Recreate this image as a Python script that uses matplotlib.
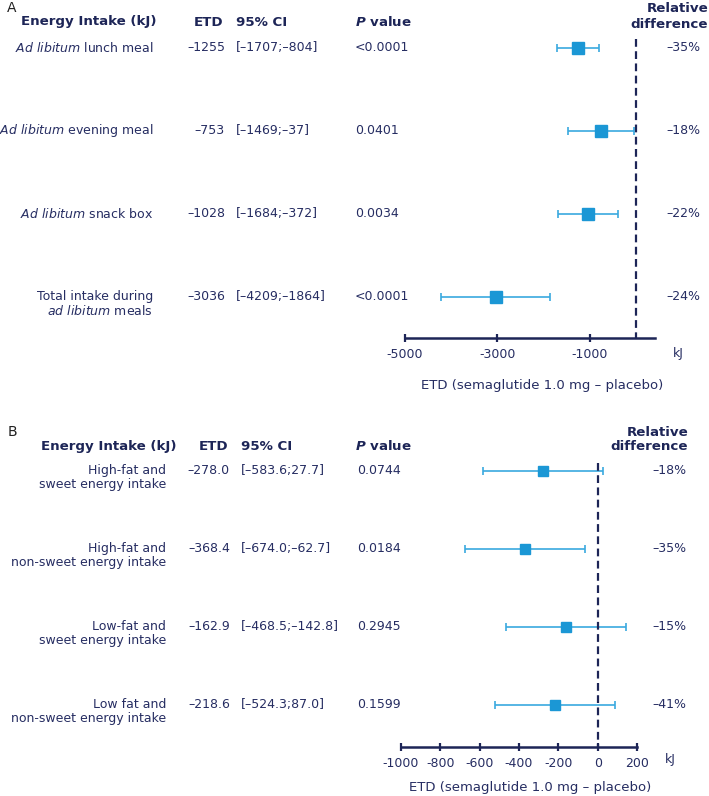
import matplotlib
import matplotlib.pyplot as plt
from matplotlib.transforms import blended_transform_factory

matplotlib.use("Agg")
plt.rcParams["mathtext.fontset"] = "dejavusans"

# Panel A data
a_labels = [
    ["$\\it{Ad\\ libitum}$ lunch meal"],
    ["$\\it{Ad\\ libitum}$ evening meal"],
    ["$\\it{Ad\\ libitum}$ snack box"],
    ["Total intake during", "$\\it{ad\\ libitum}$ meals"],
]
a_etd = [-1255, -753, -1028, -3036]
a_lo = [-1707, -1469, -1684, -4209]
a_hi = [-804, -37, -372, -1864]
a_ci_text = ["[–1707;–804]", "[–1469;–37]", "[–1684;–372]", "[–4209;–1864]"]
a_p = ["<0.0001", "0.0401", "0.0034", "<0.0001"]
a_rel = ["–35%", "–18%", "–22%", "–24%"]
a_ticks = [-5000, -3000, -1000]

# Panel B data
b_labels = [
    ["High-fat and", "sweet energy intake"],
    ["High-fat and", "non-sweet energy intake"],
    ["Low-fat and", "sweet energy intake"],
    ["Low fat and", "non-sweet energy intake"],
]
b_etd = [-278.0, -368.4, -162.9, -218.6]
b_lo = [-583.6, -674.0, -468.5, -524.3]
b_hi = [27.7, -62.7, 142.8, 87.0]  # plotted bar reaches +142.8
b_ci_text = ["[–583.6;27.7]", "[–674.0;–62.7]", "[–468.5;–142.8]", "[–524.3;87.0]"]
b_p = ["0.0744", "0.0184", "0.2945", "0.1599"]
b_rel = ["–18%", "–35%", "–15%", "–41%"]
b_ticks = [-1000, -800, -600, -400, -200, 0, 200]

W, H = 709, 796
NAVY = "#1d2557"
TXT = "#262d62"
BLUE = "#1b97d5"
BAR = "#3aa9df"
FS = 9
HFS = 9.6


def make_panel(fig, rect, xlim, ylim, ticks, etd, lo, hi, ms):
    ax = fig.add_axes([rect[0] / W, 1 - rect[3] / H, (rect[2] - rect[0]) / W,
                       (rect[3] - rect[1]) / H])
    rows = list(range(len(etd)))
    ax.errorbar(etd, rows, xerr=[[e - l for e, l in zip(etd, lo)],
                                 [h - e for e, h in zip(etd, hi)]],
                fmt="none", ecolor=BAR, elinewidth=1.2, capsize=3, capthick=1.2)
    ax.plot(etd, rows, "s", color=BLUE, ms=ms, ls="none")
    ax.vlines(0, -0.1, ylim[0], colors=NAVY, linestyles=(0, (3.5, 2)), lw=1.6)
    ax.set_xlim(*xlim)
    ax.set_ylim(*ylim)
    for s in ["top", "right", "left"]:
        ax.spines[s].set_visible(False)
    ax.spines["bottom"].set_color(NAVY)
    ax.spines["bottom"].set_linewidth(1.8)
    ax.set_yticks([])
    ax.set_xticks(ticks)
    ax.set_xticklabels([str(t) for t in ticks])
    ax.tick_params(axis="x", direction="inout", length=6, width=1.6, color=NAVY,
                   labelcolor=TXT, labelsize=FS, pad=4)
    ax.patch.set_alpha(0)
    return ax


def table(fig, ax, labels, etd, ci, p, rel, cols, fmt):
    tr = blended_transform_factory(fig.transFigure, ax.transData)
    xl, xe, xc, xp, xr = [c / W for c in cols]
    for i in range(len(etd)):
        fig.text(xl, i, labels[i][0], ha="right", va="center", color=TXT,
                 fontsize=FS, transform=tr)
        if len(labels[i]) > 1:
            fig.text(xl, i + 0.18, labels[i][1], ha="right", va="center",
                     color=TXT, fontsize=FS, transform=tr)
        fig.text(xe, i, fmt(etd[i]).replace("-", "–"), ha="right", va="center",
                 color=TXT, fontsize=FS, transform=tr)
        fig.text(xc, i, ci[i], ha="left", va="center", color=TXT, fontsize=FS,
                 transform=tr)
        fig.text(xp, i, p[i], ha="left", va="center", color=TXT, fontsize=FS,
                 transform=tr)
        fig.text(xr, i, rel[i], ha="center", va="center", color=TXT,
                 fontsize=FS, transform=tr)


def headers(fig, y, x_name, x_etd, x_ci, x_p, x_rel, y_rel1, y_rel2):
    kw = dict(color=NAVY, fontsize=HFS, fontweight="bold", va="center")
    fig.text(x_name / W, 1 - y / H, "Energy Intake (kJ)", ha="left", **kw)
    fig.text(x_etd / W, 1 - y / H, "ETD", ha="right", **kw)
    fig.text(x_ci / W, 1 - y / H, "95% CI", ha="left", **kw)
    fig.text(x_p / W, 1 - y / H, "$\\mathbfit{P}$ value", ha="left", **kw)
    fig.text(x_rel / W, 1 - y_rel1 / H, "Relative", ha="right", **kw)
    fig.text(x_rel / W, 1 - y_rel2 / H, "difference", ha="right", **kw)


fig = plt.figure(figsize=(W / 100, H / 100), dpi=100)

axA = make_panel(fig, (405, 31, 655, 338), (-5000, 420), (3.5, -0.2), a_ticks,
                 a_etd, a_lo, a_hi, 8.5)
table(fig, axA, a_labels, a_etd, a_ci_text, a_p, a_rel,
      (153, 225, 236, 355, 683), lambda v: f"{v}")
headers(fig, 22, 21, 223, 236, 355, 708, 8, 25)
fig.text(678 / W, 1 - 353 / H, "kJ", ha="center", va="center", color=TXT,
         fontsize=FS)
fig.text(542 / W, 1 - 385 / H, "ETD (semaglutide 1.0 mg – placebo)",
         ha="center", va="center", color=TXT, fontsize=9.5)
fig.text(12 / W, 1 - 8 / H, "A", ha="center", va="center", color="#222222",
         fontsize=10)

axB = make_panel(fig, (401, 455, 637, 747), (-1000, 200), (3.54, -0.2), b_ticks,
                 b_etd, b_lo, b_hi, 7.5)
table(fig, axB, b_labels, b_etd, b_ci_text, b_p, b_rel,
      (166, 230, 241, 357, 669), lambda v: f"{v:.1f}")
headers(fig, 446, 41, 228, 241, 355, 688, 433, 447)
fig.text(670 / W, 1 - 760 / H, "kJ", ha="center", va="center", color=TXT,
         fontsize=FS)
fig.text(530 / W, 1 - 787 / H, "ETD (semaglutide 1.0 mg – placebo)",
         ha="center", va="center", color=TXT, fontsize=9.5)
fig.text(12 / W, 1 - 432 / H, "B", ha="center", va="center", color="#222222",
         fontsize=10)

fig.savefig("out.png", dpi=100)
